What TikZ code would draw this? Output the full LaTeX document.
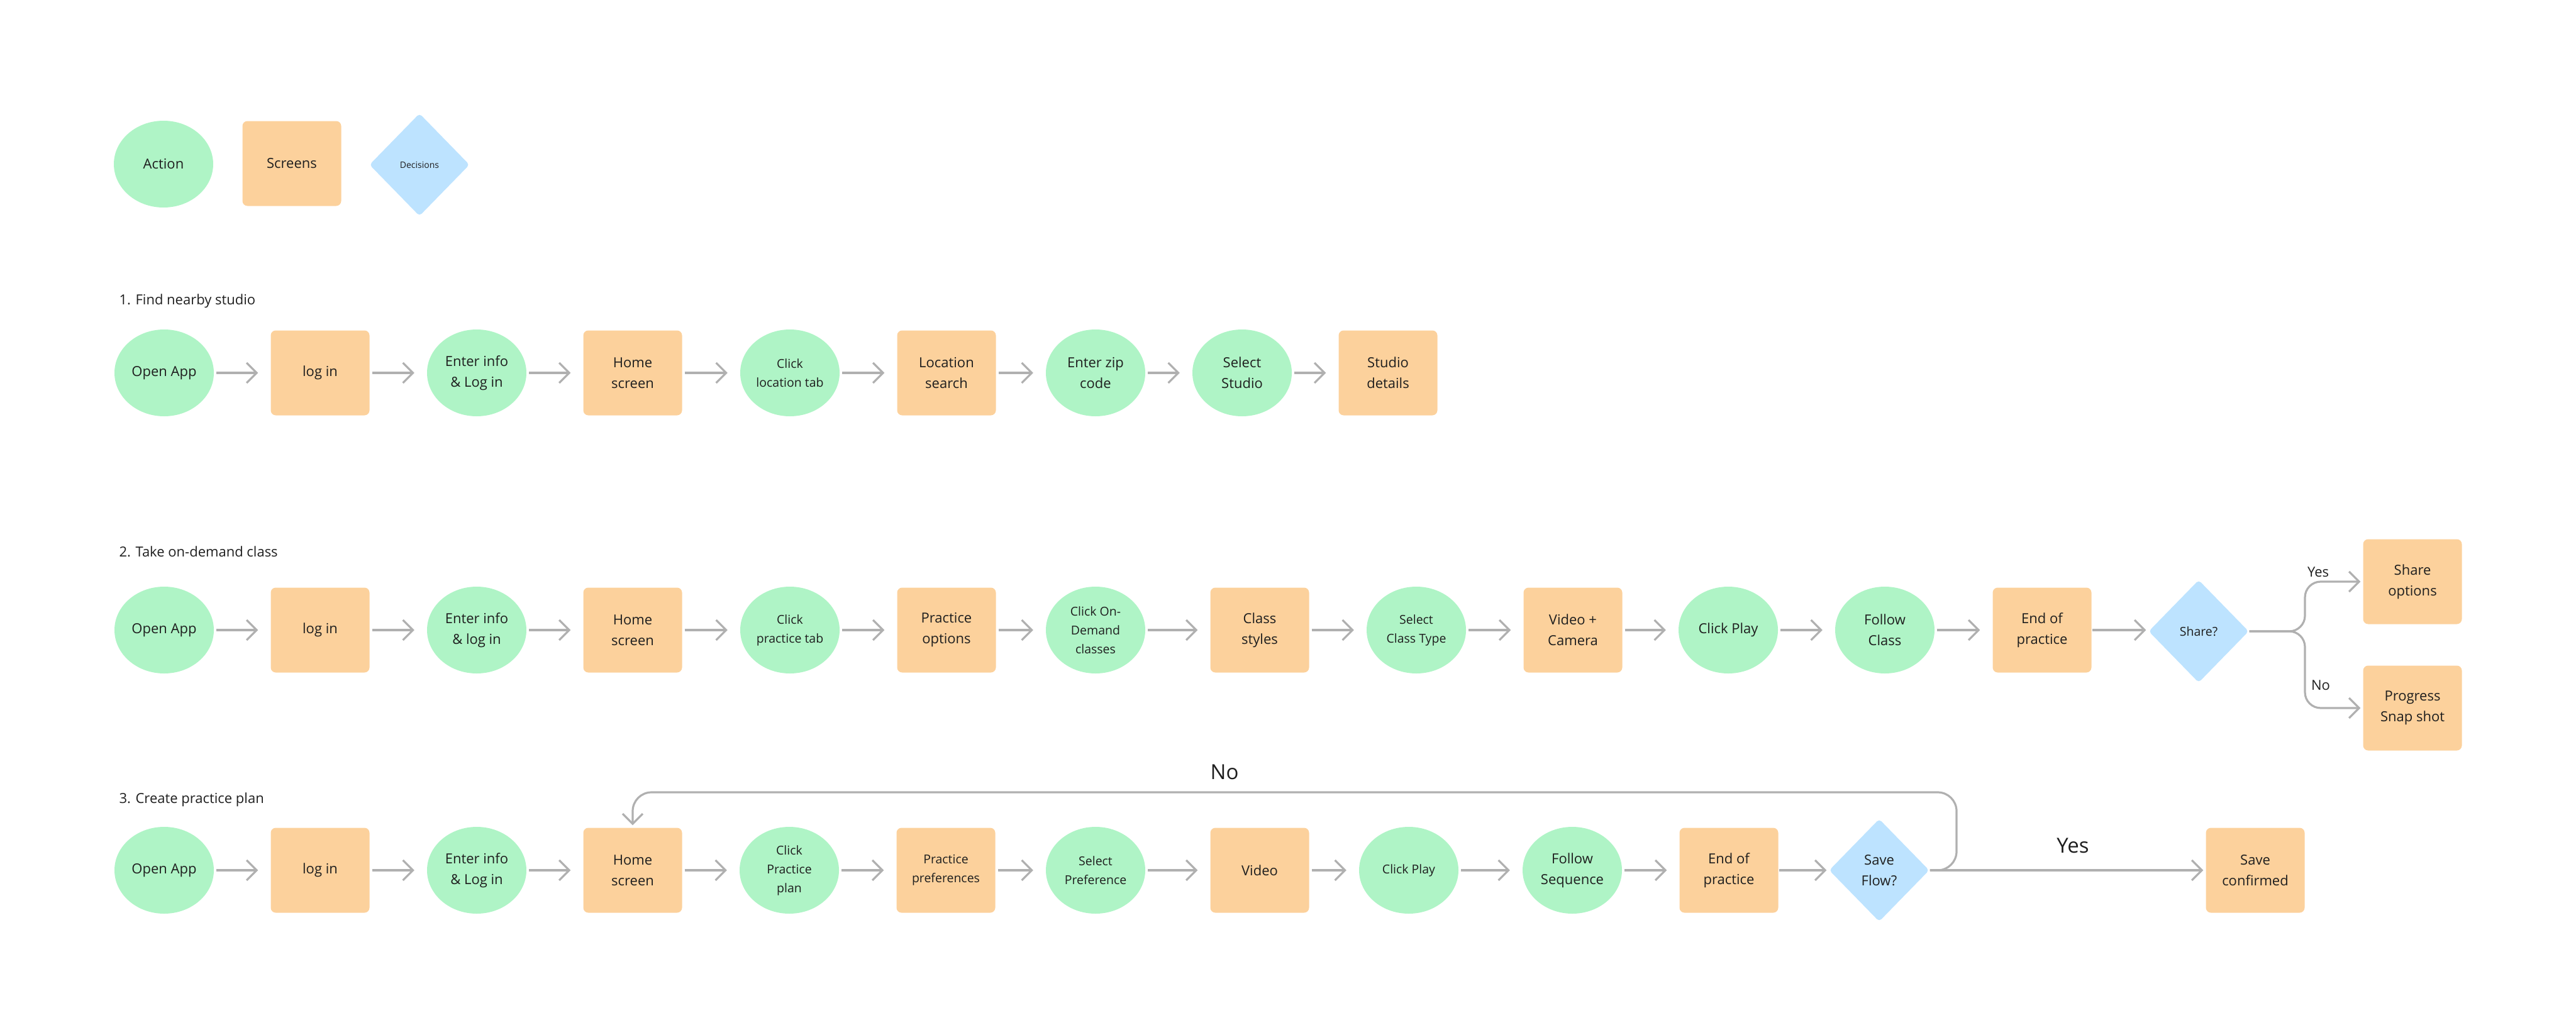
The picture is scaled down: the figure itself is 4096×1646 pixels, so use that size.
\documentclass[tikz,border=0pt]{standalone}
\usepackage{fontspec}
\setmainfont{Open Sans}
\usepackage{tikz}
\usetikzlibrary{arrows.meta,shapes.geometric}
\definecolor{actgreen}{HTML}{AFF4C6}
\definecolor{scrorange}{HTML}{FCD19C}
\definecolor{decblue}{HTML}{BDE3FF}
\definecolor{linegray}{HTML}{B0B0B0}
\definecolor{ink}{HTML}{1E1E1E}
\tikzset{
  base/.style={inner sep=0pt, align=center, text=ink, font=\fontsize{22}{33}\selectfont},
  small/.style={font=\fontsize{19.5}{30}\selectfont},
  act/.style={base, ellipse, fill=actgreen, minimum width=158pt, minimum height=138pt},
  acts/.style={act, small},
  scr/.style={base, rectangle, rounded corners=8pt, fill=scrorange, minimum width=157pt, minimum height=135pt},
  scrs/.style={scr, small},
  dec/.style={base, diamond, rounded corners=5pt, fill=decblue, minimum width=159pt, minimum height=163pt},
  decs/.style={dec, small},
  ar/.style={-{Straight Barb[length=16pt,width=32pt]}, line width=3.2pt, draw=linegray, shorten <=4pt, shorten >=20pt},
  arb/.style={ar, shorten <=1pt, shorten >=4pt},
  ttl/.style={anchor=west, text=ink, font=\fontsize{22}{33}\selectfont},
  lbl/.style={text=ink, font=\fontsize{22}{33}\selectfont},
  biglbl/.style={text=ink, font=\fontsize{33}{40}\selectfont},
}
\begin{document}
\begin{tikzpicture}[x=1pt, y=-1pt]
  \useasboundingbox (0,0) rectangle (4096,1646);
  % legend
  \node[act] (lgact) at (260,261) {Action};
  \node[scr] (lgscr) at (464,260) {Screens};
  \node[dec, font=\fontsize{14}{17}\selectfont] (lgdec) at (667,262) {Decisions};

  % 1. find nearby studio
  \node[ttl] (t1) at (186,479) {1. Find nearby studio};
  \foreach \n/\x/\sty/\txt in {1/261/act/Open App, 2/509/scr/log in, 3/758/act/Enter info\\\& Log in,
      4/1006/scr/Home\\screen, 5/1256/acts/Click\\location tab, 6/1505/scr/Location\\search,
      7/1742/act/Enter zip\\code, 8/1975/act/Select\\Studio, 9/2207/scr/Studio\\details}
    \node[\sty] (a\n) at (\x,593) {\txt};
  \foreach \i [evaluate=\i as \j using int(\i+1)] in {1,...,8}
    \draw[ar] (a\i) -- (a\j);

  % 2. take on-demand class
  \node[ttl] (t2) at (186,877) {2. Take on-demand class};
  \foreach \n/\x/\sty/\txt in {1/261/act/Open App, 2/509/scr/log in, 3/758/act/Enter info\\\& log in,
      4/1006/scr/Home\\screen, 5/1256/acts/Click\\practice tab, 6/1505/scr/Practice\\options,
      7/1742/acts/Click On-\\Demand\\classes, 8/2003/scr/Class\\styles, 9/2252/acts/Select\\Class Type,
      10/2501/scr/Video +\\Camera, 11/2748/act/Click Play, 12/2997/act/Follow\\Class, 13/3247/scr/End of\\practice}
    \node[\sty] (b\n) at (\x,1002) {\txt};
  \foreach \i [evaluate=\i as \j using int(\i+1)] in {1,...,12}
    \draw[ar] (b\i) -- (b\j);
  \node[decs] (share) at (3496,1004) {Share?};
  \node[scr] (shopt) at (3836,925) {Share\\options};
  \node[scr] (snap) at (3836,1126) {Progress\\Snap shot};
  \draw[arb] (b13.east) -- (b13.east -| share.west);
  \coordinate (split) at (3665,1004);
  \draw[arb, rounded corners=25pt] (share.east) -- (split) |- (shopt.west);
  \draw[arb, rounded corners=25pt] (share.east) -- (split) |- (snap.west);
  \node[lbl] (yes1) at (3686,910) {Yes};
  \node[lbl] (no1) at (3690,1090) {No};

  % 3. create practice plan
  \node[ttl] (t3) at (186,1272) {3. Create practice plan};
  \foreach \n/\x/\sty/\txt in {1/261/act/Open App, 2/509/scr/log in, 3/758/act/Enter info\\\& Log in,
      4/1006/scr/Home\\screen, 5/1255/acts/Click\\Practice\\plan, 6/1504/scrs/Practice\\preferences,
      7/1742/acts/Select\\Preference, 8/2003/scr/Video, 9/2240/acts/Click Play,
      10/2500/act/Follow\\Sequence, 11/2749/scr/End of\\practice}
    \node[\sty] (c\n) at (\x,1384) {\txt};
  \foreach \i [evaluate=\i as \j using int(\i+1)] in {1,...,10}
    \draw[ar] (c\i) -- (c\j);
  \node[dec] (save) at (2988,1384) {Save\\Flow?};
  \node[scr] (saved) at (3586,1384) {Save\\confirmed};
  \draw[arb] (c11) -- (save);
  \coordinate (loopr) at (3111,1260);
  \draw[arb, rounded corners=30pt] (save.east) -| (loopr) -| (c4.north);
  \draw[arb] (save.east) -- (saved.west);
  \node[biglbl] (no2) at (1947,1228) {No};
  \node[biglbl] (yes2) at (3296,1345) {Yes};
\end{tikzpicture}
\end{document}
